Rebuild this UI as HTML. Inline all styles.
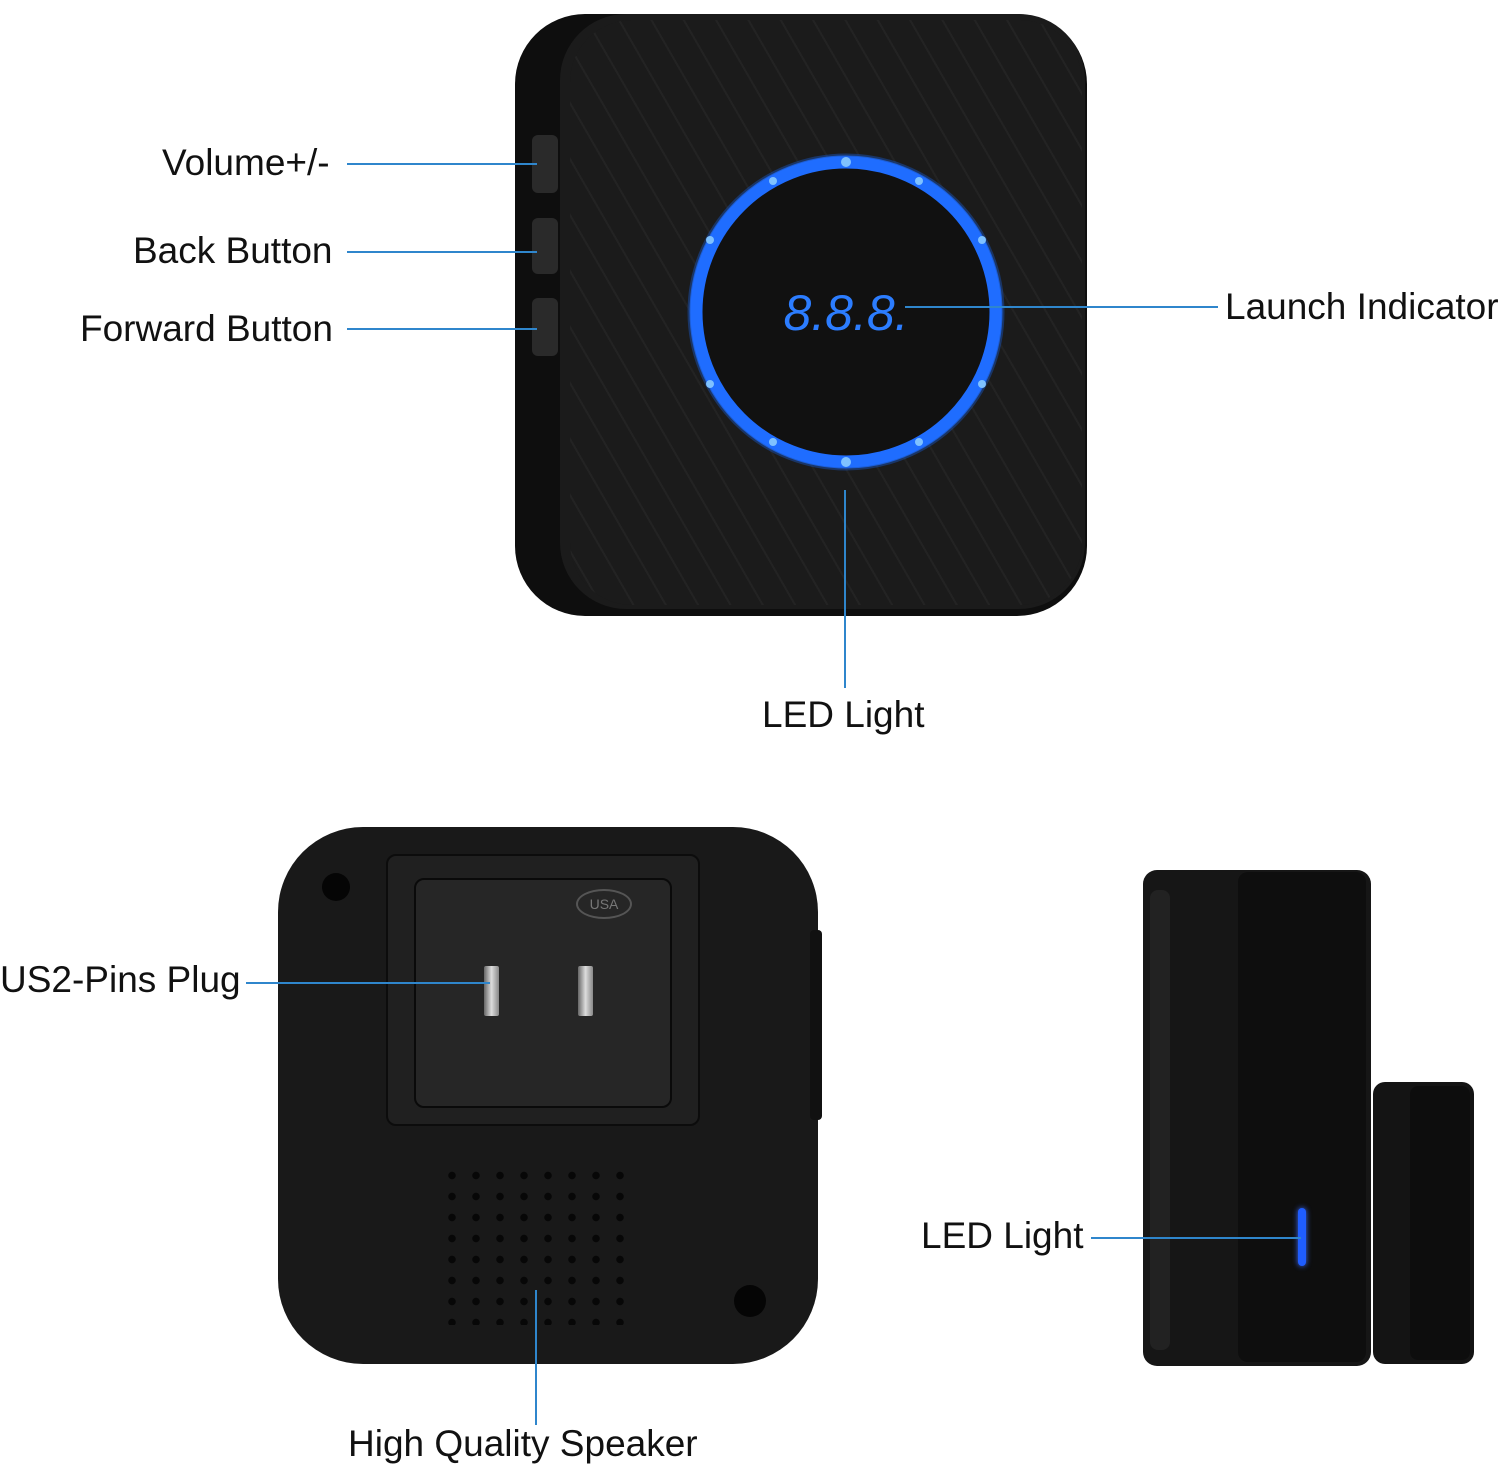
<!DOCTYPE html>
<html><head><meta charset="utf-8">
<style>
html,body{margin:0;padding:0;background:#fff;}
body{width:1500px;height:1465px;position:relative;overflow:hidden;font-family:"Liberation Sans",sans-serif;}
.lbl{position:absolute;font-size:37px;color:#111;white-space:nowrap;line-height:1;}
.ln{position:absolute;background:#2f86cc;}
</style></head><body>

<!-- Top device -->
<div style="position:absolute;left:515px;top:14px;width:572px;height:602px;border-radius:70px;background:#0e0e0e;"></div>
<div style="position:absolute;left:560px;top:14px;width:525px;height:595px;border-radius:66px;background:#1b1b1b;"></div>
<div style="position:absolute;left:570px;top:20px;width:512px;height:585px;border-radius:62px;background:repeating-linear-gradient(60deg,#1b1b1b 0 26px,#242424 26px 28px),#1b1b1b;opacity:.9;"></div>
<div style="position:absolute;left:532px;top:135px;width:26px;height:58px;border-radius:6px;background:#2a2a2a;"></div>
<div style="position:absolute;left:532px;top:218px;width:26px;height:56px;border-radius:6px;background:#2a2a2a;"></div>
<div style="position:absolute;left:532px;top:298px;width:26px;height:58px;border-radius:6px;background:#2a2a2a;"></div>
<svg style="position:absolute;left:680px;top:145px" width="335" height="335">
<circle cx="166" cy="167" r="150" fill="#111" stroke="#1f6dff" stroke-width="13"/>
<circle cx="166" cy="167" r="157" fill="none" stroke="#1a4fb0" stroke-width="3" opacity=".5"/>
<g fill="#7fc2ff">
<circle cx="166" cy="17" r="5"/><circle cx="166" cy="317" r="5"/>
<circle cx="93" cy="36" r="4"/><circle cx="239" cy="36" r="4"/>
<circle cx="30" cy="95" r="4"/><circle cx="302" cy="95" r="4"/>
<circle cx="30" cy="239" r="4"/><circle cx="302" cy="239" r="4"/>
<circle cx="93" cy="297" r="4"/><circle cx="239" cy="297" r="4"/>
</g>
<text x="166" y="185" text-anchor="middle" font-family="Liberation Sans,sans-serif" font-size="50" font-style="italic" fill="#2c7dff">8.8.8.</text>
</svg>

<div class="lbl" style="left:162px;top:144px">Volume+/-</div>
<div class="ln" style="left:347px;top:163px;width:190px;height:1.5px"></div>
<div class="lbl" style="left:133px;top:232px">Back Button</div>
<div class="ln" style="left:347px;top:251px;width:190px;height:1.5px"></div>
<div class="lbl" style="left:80px;top:310px">Forward Button</div>
<div class="ln" style="left:347px;top:328px;width:190px;height:1.5px"></div>
<div class="lbl" style="left:1225px;top:288px">Launch Indicator</div>
<div class="ln" style="left:905px;top:306px;width:313px;height:1.5px"></div>
<div class="ln" style="left:844px;top:490px;width:1.5px;height:198px"></div>
<div class="lbl" style="left:762px;top:696px">LED Light</div>

<!-- Bottom device -->
<div style="position:absolute;left:278px;top:827px;width:540px;height:537px;border-radius:85px;background:#191919;"></div>
<div style="position:absolute;left:810px;top:930px;width:12px;height:190px;background:#111;border-radius:4px;"></div>
<div style="position:absolute;left:322px;top:873px;width:28px;height:28px;border-radius:50%;background:#050505;"></div>
<div style="position:absolute;left:734px;top:1285px;width:32px;height:32px;border-radius:50%;background:#050505;"></div>
<div style="position:absolute;left:386px;top:854px;width:314px;height:272px;border-radius:10px;background:#202020;border:2px solid #0c0c0c;box-sizing:border-box;"></div>
<div style="position:absolute;left:414px;top:878px;width:258px;height:230px;border-radius:10px;background:#262626;border:2px solid #0a0a0a;box-sizing:border-box;"></div>
<div style="position:absolute;left:576px;top:889px;width:56px;height:30px;border-radius:50%;border:2px solid #555;box-sizing:border-box;font-size:14px;color:#777;text-align:center;line-height:26px;">USA</div>
<div style="position:absolute;left:484px;top:966px;width:15px;height:50px;background:linear-gradient(90deg,#666,#ddd,#888);border-radius:2px;"></div>
<div style="position:absolute;left:578px;top:966px;width:15px;height:50px;background:linear-gradient(90deg,#666,#ddd,#888);border-radius:2px;"></div>
<div style="position:absolute;left:440px;top:1165px;width:190px;height:160px;background-image:radial-gradient(circle,#070707 3.5px,transparent 4px);background-size:24px 21px;"></div>

<div class="lbl" style="left:0px;top:961px">US2-Pins Plug</div>
<div class="ln" style="left:246px;top:982px;width:244px;height:1.5px"></div>
<div class="ln" style="left:535px;top:1290px;width:1.5px;height:135px"></div>
<div class="lbl" style="left:348px;top:1425px">High Quality Speaker</div>

<!-- Sensor -->
<div style="position:absolute;left:1143px;top:870px;width:228px;height:496px;border-radius:14px;background:#161616;"></div>
<div style="position:absolute;left:1238px;top:872px;width:128px;height:490px;border-radius:10px;background:#0e0e0e;"></div>
<div style="position:absolute;left:1150px;top:890px;width:20px;height:460px;background:#222;border-radius:8px;"></div>
<div style="position:absolute;left:1298px;top:1208px;width:8px;height:58px;border-radius:4px;background:#1f5dff;box-shadow:0 0 6px #3b6bff;"></div>
<div style="position:absolute;left:1373px;top:1082px;width:101px;height:282px;border-radius:12px;background:#141414;"></div>
<div style="position:absolute;left:1410px;top:1086px;width:60px;height:274px;border-radius:8px;background:#0d0d0d;"></div>

<div class="lbl" style="left:921px;top:1217px">LED Light</div>
<div class="ln" style="left:1091px;top:1237px;width:210px;height:1.5px"></div>
</body></html>
